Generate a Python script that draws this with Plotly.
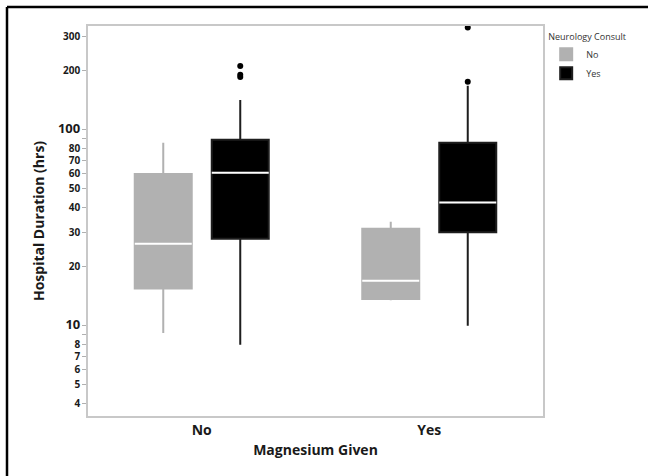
import plotly.graph_objects as go

# ---- data ----
magnesium = ["No", "Yes"]
consult_groups = ["No", "Yes"]

# Neurology Consult = No (gray)
no_lower = [9.2, 13.5]
no_q1 = [15.5, 13.7]
no_median = [26.2, 17.0]
no_q3 = [59.6, 31.3]
no_upper = [86.0, 34.0]

# Neurology Consult = Yes (black)
yes_lower = [8.0, 10.0]
yes_q1 = [27.8, 30.0]
yes_median = [60.5, 42.6]
yes_q3 = [89.0, 86.0]
yes_upper = [142.0, 168.0]

# outliers (Neurology Consult = Yes)
out_x = ["No", "No", "No", "Yes", "Yes"]
out_y = [212, 191, 186, 333, 176]

y_tickvals = [4, 5, 6, 7, 8, 10, 20, 30, 40, 50, 60, 70, 80, 100, 200, 300]
y_ticktext = ["4", "5", "6", "7", "8", '<span style="font-size:13px">10</span>',
              "20", "30", "40", "50", "60", "70", "80", '<span style="font-size:13px">100</span>',
              "200", "300"]
y_minor_vals = [9, 90]

GRAY = "#b1b1b1"
BLACK = "#000000"

fig = go.Figure()

fig.add_trace(go.Box(
    x=magnesium, q1=no_q1, median=no_median, q3=no_q3,
    lowerfence=no_lower, upperfence=no_upper,
    name="No", offsetgroup="No", alignmentgroup="a", whiskerwidth=0,
    fillcolor=GRAY, line=dict(color=GRAY, width=2),
    boxpoints=False, legendgroup="No", showlegend=True, hoverinfo="skip"))
fig.add_trace(go.Box(
    x=magnesium, q1=yes_q1, median=yes_median, q3=yes_q3,
    lowerfence=yes_lower, upperfence=yes_upper,
    name="Yes", offsetgroup="Yes", alignmentgroup="a", whiskerwidth=0,
    fillcolor=BLACK, line=dict(color="#1e1e1e", width=2),
    boxpoints=False, legendgroup="Yes", showlegend=True, hoverinfo="skip"))

# white median lines (degenerate boxes at the median)
fig.add_trace(go.Box(
    x=magnesium, q1=no_median, median=no_median, q3=no_median,
    lowerfence=no_median, upperfence=no_median, whiskerwidth=0,
    offsetgroup="No", alignmentgroup="a", fillcolor="white",
    line=dict(color="white", width=2), boxpoints=False, showlegend=False, hoverinfo="skip"))
fig.add_trace(go.Box(
    x=magnesium, q1=yes_median, median=yes_median, q3=yes_median,
    lowerfence=yes_median, upperfence=yes_median, whiskerwidth=0,
    offsetgroup="Yes", alignmentgroup="a", fillcolor="white",
    line=dict(color="white", width=2), boxpoints=False, showlegend=False, hoverinfo="skip"))

# placeholder for "No" group so scatter grouping aligns with boxes
fig.add_trace(go.Scatter(
    x=[], y=[], mode="markers", offsetgroup="No", alignmentgroup="a", showlegend=False))
fig.add_trace(go.Scatter(
    x=out_x, y=out_y, mode="markers", offsetgroup="Yes", alignmentgroup="a",
    marker=dict(color=BLACK, size=6), showlegend=False, cliponaxis=False, hoverinfo="skip"))

fig.update_layout(
    width=648, height=476,
    margin=dict(l=88, r=105, t=26, b=60, autoexpand=False),
    paper_bgcolor="white", plot_bgcolor="white",
    boxmode="group", boxgap=0.323, boxgroupgap=0.26,
    scattermode="group", scattergap=0.323,
    font=dict(family="Open Sans, DejaVu Sans, sans-serif", color="#1a1a1a"),
    legend=dict(
        title=dict(text="Neurology Consult", font=dict(size=9, color="#333")),
        font=dict(size=9, color="#333"),
        x=1.007, xanchor="left", y=0.995, yanchor="top",
        itemwidth=30, tracegroupgap=0, bgcolor="rgba(0,0,0,0)"),
    xaxis=dict(
        type="category", range=[-0.5, 1.5], automargin=False,
        showline=True, mirror=True, linecolor="#c8c8c8", linewidth=1.5,
        showgrid=False, ticks="", zeroline=False,
        tickfont=dict(size=14, family="Open Sans", color="#1a1a1a", weight="bold"),
        title=dict(text="Magnesium Given", standoff=8,
                   font=dict(size=14, family="Open Sans", color="#1a1a1a", weight="bold"))),
    yaxis=dict(
        type="log", range=[0.54, 2.53], automargin=False,
        tickvals=y_tickvals, ticktext=y_ticktext,
        minor=dict(tickvals=y_minor_vals, ticks="outside", ticklen=4, tickcolor="#b0b0b0", showgrid=False),
        showline=True, mirror=True, linecolor="#c8c8c8", linewidth=1.5,
        showgrid=False, zeroline=False,
        ticks="outside", ticklen=4, tickcolor="#b0b0b0",
        tickfont=dict(size=10, family="Open Sans", color="#1a1a1a", weight="bold"),
        title=dict(text="Hospital Duration (hrs)", standoff=10,
                   font=dict(size=14, family="Open Sans", color="#1a1a1a", weight="bold"))),
)

# outer frame (left and top edges visible)
fig.add_shape(type="line", xref="paper", yref="paper",
              x0=(7 - 88) / 455, x1=(7 - 88) / 455, y0=(416 - 480) / 390, y1=(416 - 7) / 390,
              line=dict(color="black", width=2.5))
fig.add_shape(type="line", xref="paper", yref="paper",
              x0=(7 - 88) / 455, x1=(660 - 88) / 455, y0=(416 - 7) / 390, y1=(416 - 7) / 390,
              line=dict(color="black", width=2.5))

fig.write_html("out.html", config={"displayModeBar": False},
               post_script="document.body.style.margin='0';document.body.style.overflow='hidden';")
